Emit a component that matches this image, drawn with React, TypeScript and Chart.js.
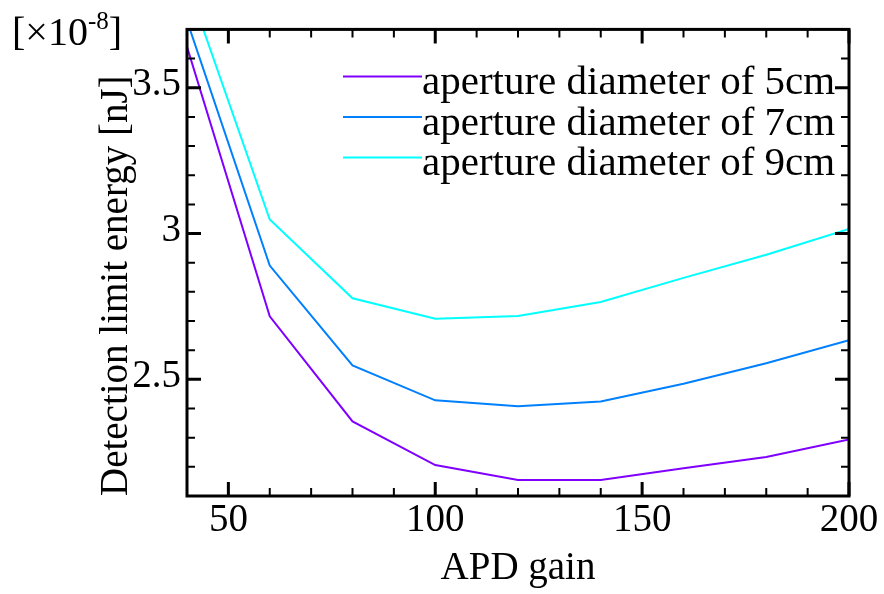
import { useEffect, useRef } from "react";
import { Chart, registerables } from "chart.js";

Chart.register(...registerables);

const gains = [40, 60, 80, 100, 120, 140, 160, 180, 200];
const energy5cm = [3.64, 2.716, 2.356, 2.206, 2.155, 2.155, 2.195, 2.234, 2.294];
const energy7cm = [3.73, 2.89, 2.548, 2.428, 2.408, 2.424, 2.485, 2.555, 2.634];
const energy9cm = [3.86, 3.048, 2.778, 2.708, 2.717, 2.765, 2.848, 2.927, 3.016];
const seriesLabels = [
  "aperture diameter of 5cm",
  "aperture diameter of 7cm",
  "aperture diameter of 9cm",
];
const seriesColors = ["#8000ff", "#0080ff", "#00ffff"];
const xMajorTicks = [50, 100, 150, 200];
const yMajorTicks = [2.5, 3, 3.5];
const xTitle = "APD gain";
const yTitle = "Detection limit energy [nJ]";
const multiplierBase = "[\u00d710";
const multiplierExp = "-8";
const multiplierEnd = "]";

const FONT = "'Liberation Serif', 'Times New Roman', serif";

const framePlugin = {
  id: "frame",
  afterDatasetsDraw(chart: any) {
    const { ctx, chartArea } = chart;
    const { left, right, top, bottom } = chartArea;
    const xs = chart.scales.x;
    const ys = chart.scales.y;
    ctx.save();
    ctx.strokeStyle = "#000";
    for (let v = 40; v <= 200; v += 10) {
      const px = xs.getPixelForValue(v);
      const major = v % 50 === 0;
      const len = major ? 14 : 8;
      ctx.lineWidth = major ? 3 : 2;
      ctx.beginPath();
      ctx.moveTo(px, bottom);
      ctx.lineTo(px, bottom - len);
      ctx.moveTo(px, top);
      ctx.lineTo(px, top + len);
      ctx.stroke();
    }
    for (let i = 21; i <= 37; i++) {
      const py = ys.getPixelForValue(i / 10);
      const major = i % 5 === 0;
      const len = major ? 14 : 8;
      ctx.lineWidth = major ? 3 : 2;
      ctx.beginPath();
      ctx.moveTo(left, py);
      ctx.lineTo(left + len, py);
      ctx.moveTo(right, py);
      ctx.lineTo(right - len, py);
      ctx.stroke();
    }
    ctx.lineWidth = 3;
    ctx.strokeRect(left, top, right - left, bottom - top);

    // legend
    ctx.font = `41px ${FONT}`;
    ctx.textBaseline = "alphabetic";
    ctx.textAlign = "left";
    chart.data.datasets.forEach((ds: any, i: number) => {
      const baseY = top + 65 + i * 40.5;
      const textX = left + 235;
      ctx.strokeStyle = ds.borderColor;
      ctx.lineWidth = 2;
      ctx.beginPath();
      ctx.moveTo(textX - 79, baseY - 18);
      ctx.lineTo(textX, baseY - 18);
      ctx.stroke();
      ctx.fillStyle = "#000";
      ctx.fillText(ds.label, textX, baseY);
    });

    // multiplier
    ctx.fillStyle = "#000";
    ctx.font = `40px ${FONT}`;
    let x = 12;
    ctx.fillText(multiplierBase, x, 45);
    x += ctx.measureText(multiplierBase).width;
    ctx.font = `25px ${FONT}`;
    ctx.fillText(multiplierExp, x, 29);
    x += ctx.measureText(multiplierExp).width;
    ctx.font = `40px ${FONT}`;
    ctx.fillText(multiplierEnd, x, 45);
    ctx.restore();
  },
};

export default function App() {
  const canvasRef = useRef<HTMLCanvasElement | null>(null);

  useEffect(() => {
    const canvas = canvasRef.current;
    if (!canvas) return;
    const all = [energy5cm, energy7cm, energy9cm];
    const chart = new Chart(canvas, {
      type: "line",
      data: {
        datasets: all.map((vals, i) => ({
          label: seriesLabels[i],
          data: gains.map((g, j) => ({ x: g, y: vals[j] })),
          borderColor: seriesColors[i],
          backgroundColor: seriesColors[i],
          borderWidth: 2,
          pointRadius: 0,
          tension: 0,
          fill: false,
        })),
      },
      options: {
        responsive: false,
        animation: false,
        devicePixelRatio: 1,
        layout: { padding: { left: 0, right: 35, top: 22, bottom: 0 } },
        plugins: {
          legend: { display: false },
          tooltip: { enabled: false },
        },
        scales: {
          x: {
            type: "linear",
            min: 40,
            max: 200,
            afterFit: (s: any) => {
              s.height = 98;
            },
            border: { display: false },
            grid: { display: false, drawTicks: false },
            ticks: {
              stepSize: 10,
              autoSkip: false,
              maxRotation: 0,
              padding: 1,
              color: "#000",
              font: { family: FONT, size: 39 },
              callback: (v: any) => (xMajorTicks.includes(Number(v)) ? String(v) : ""),
            },
            title: {
              display: true,
              text: xTitle,
              color: "#000",
              font: { family: FONT, size: 39 },
              padding: { top: 0, bottom: 2 },
            },
          },
          y: {
            type: "linear",
            min: 2.1,
            max: 3.7,
            afterFit: (s: any) => {
              s.width = 187;
            },
            border: { display: false },
            grid: { display: false, drawTicks: false },
            ticks: {
              stepSize: 0.1,
              autoSkip: false,
              padding: 6,
              labelOffset: -3,
              color: "#000",
              font: { family: FONT, size: 39 },
              callback: (v: any) => {
                const r = Math.round(Number(v) * 10) / 10;
                return yMajorTicks.includes(r) ? String(r) : "";
              },
            },
            title: {
              display: true,
              text: yTitle,
              align: "start",
              color: "#000",
              font: { family: FONT, size: 39 },
              padding: { top: 93, bottom: 0 },
            },
          },
        },
      },
      plugins: [framePlugin],
    });
    return () => chart.destroy();
  }, []);

  return (
    <div style={{ position: "fixed", left: 0, top: 0, width: 884, height: 594, background: "#fff" }}>
      <canvas ref={canvasRef} width={884} height={594} />
    </div>
  );
}
